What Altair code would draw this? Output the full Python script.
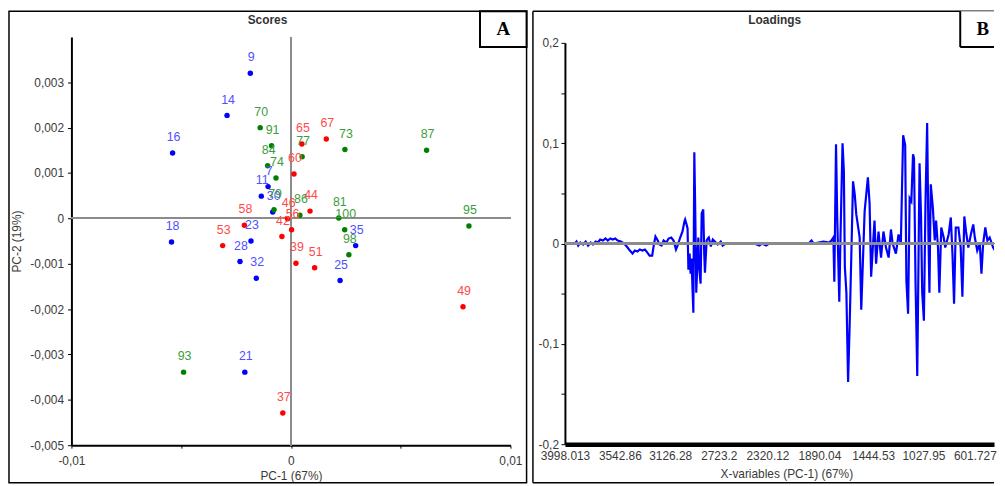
import altair as alt
import pandas as pd

# ---------------- Panel A : Scores ----------------
blue_ids = ["9", "14", "16", "18", "23", "28", "32", "25", "35", "7", "11", "30", "21"]
blue_pc1 = [-0.00185, -0.00291, -0.00539, -0.00544, -0.00182, -0.00232, -0.00158,
            0.00224, 0.00295, -0.00104, -0.00135, -0.00083, -0.00210]
blue_pc2 = [0.00320, 0.00227, 0.00144, -0.00052, -0.00050, -0.00095, -0.00132,
            -0.00137, -0.00060, 0.00070, 0.00049, 0.00014, -0.00339]

green_ids = ["70", "91", "84", "74", "77", "73", "79", "86", "81", "100", "98", "87", "95", "93"]
green_pc1 = [-0.00140, -0.00088, -0.00106, -0.00068, 0.00051, 0.00246, -0.00077,
             0.00041, 0.00218, 0.00245, 0.00264, 0.00618, 0.00811, -0.00489]
green_pc2 = [0.00200, 0.00160, 0.00116, 0.00089, 0.00136, 0.00152, 0.00019,
             0.00007, 0.00001, -0.00025, -0.00080, 0.00150, -0.00017, -0.00339]

red_ids = ["65", "67", "60", "44", "46", "56", "42", "58", "53", "39", "51", "49", "37"]
red_pc1 = [0.00050, 0.00161, 0.00014, 0.00087, -0.00015, 0.00003, -0.00041,
           -0.00212, -0.00311, 0.00023, 0.00108, 0.00784, -0.00037]
red_pc2 = [0.00164, 0.00175, 0.00098, 0.00016, -0.00001, -0.00025, -0.00040,
           -0.00015, -0.00060, -0.00099, -0.00109, -0.00195, -0.00429]

groups = ["g1", "g2", "g3"]
point_colors = ["#0000ff", "#008000", "#ff0000"]
label_colors = ["#5050ff", "#3d9c3d", "#ff4a4a"]

xa_ticks = [-0.01, -0.005, 0, 0.005, 0.01]
ya_ticks = [-0.005, -0.0045, -0.004, -0.0035, -0.003, -0.0025, -0.002, -0.0015, -0.001,
            -0.0005, 0, 0.0005, 0.001, 0.0015, 0.002, 0.0025, 0.003, 0.0035]

# ---------------- Panel B : Loadings ----------------
wavenumber = [
    3998, 3916, 3902, 3888, 3870, 3847, 3826, 3806, 3785, 3766, 3744, 3725, 3706, 3684,
    3662, 3643, 3622, 3602, 3581, 3561, 3534, 3507, 3479, 3460, 3438, 3419, 3397, 3378,
    3356, 3335, 3315, 3297, 3275, 3261, 3248, 3229, 3215, 3198, 3180, 3158, 3139, 3117,
    3098, 3078, 3062, 3043, 3024, 3008,
    3002, 2990, 2982, 2975, 2965, 2957, 2949, 2941, 2934, 2926, 2918, 2910, 2901, 2893,
    2885, 2874, 2865, 2852, 2844, 2838, 2824, 2814, 2806, 2789, 2773, 2756, 2732, 2707,
    2691, 2667, 2429, 2388, 2364, 2331, 2306, 1979, 1955, 1938, 1856, 1807, 1791,
    1774, 1766, 1752, 1742, 1725, 1715, 1698, 1687, 1679, 1666, 1652, 1638, 1625, 1611,
    1597, 1584, 1556, 1543, 1529, 1515, 1488, 1474, 1461, 1447, 1433, 1420, 1400, 1379,
    1359, 1338, 1316, 1297, 1283, 1256, 1234, 1215,
    1196, 1179, 1169, 1155, 1142, 1128, 1114, 1106, 1093, 1079, 1071, 1060, 1048, 1038,
    1024, 1011, 997, 986, 978, 967, 950, 934, 923, 907, 896, 880, 860, 847,
    819, 801, 787, 774, 760, 738, 719, 705, 689, 675, 656, 635, 615, 602,
    582, 561, 547, 533, 515, 498, 479, 450, 424]
loading = [
    0.0, 0.0, 0.002, -0.002, 0.001, -0.001, 0.002, -0.002, 0.001, -0.001, 0.002, 0.001, 0.004, 0.003,
    0.005, 0.003, 0.005, 0.004, 0.005, 0.003, 0.002, 0.0, -0.004, -0.007, -0.010, -0.007, -0.008, -0.006,
    -0.007, -0.006, -0.009, -0.012, -0.012, -0.001, 0.007, 0.003, -0.001, -0.002, 0.003, 0.001, 0.005, 0.006,
    0.003, -0.006, -0.001, 0.006, 0.012, 0.022,
    0.024, 0.019, 0.015, -0.026, -0.010, -0.030, -0.015, -0.045, -0.069, 0.091, 0.030, -0.049, -0.020, 0.006,
    -0.025, -0.040, 0.030, 0.034, -0.010, -0.029, 0.003, 0.005, 0.006, -0.003, 0.004, 0.002, -0.001, 0.002,
    -0.002, 0.0, 0.0, -0.002, 0.0, -0.002, 0.0, 0.0, 0.003, 0.0, 0.002, 0.001, 0.003,
    0.006, -0.038, 0.099, 0.026, -0.058, 0.006, 0.100, 0.072, -0.023, -0.049, -0.138, -0.076, -0.011, 0.062,
    0.049, 0.029, 0.006, -0.066, -0.017, 0.032, 0.066, 0.040, -0.033, -0.004, 0.023, -0.020, 0.012, -0.014,
    0.012, -0.004, -0.014, 0.014, 0.0, -0.010, 0.009, 0.0,
    0.108, 0.098, -0.037, -0.070, 0.045, 0.042, 0.089, 0.085, -0.040, -0.132, -0.043, 0.080, 0.029, -0.049,
    -0.077, 0.039, 0.120, 0.006, -0.049, 0.059, 0.036, 0.003, 0.023, -0.004, -0.049, 0.016, 0.006, -0.004,
    0.009, 0.026, -0.011, -0.060, 0.016, 0.016, -0.004, -0.053, 0.027, 0.012, -0.004, 0.009, 0.019, 0.006,
    -0.007, 0.0, -0.030, 0.0, 0.016, 0.003, 0.006, -0.004, -0.009]

xb_ticks = [3998.013, 3542.86, 3126.28, 2723.2, 2320.12, 1890.04, 1444.53, 1027.95, 601.727]
yb_ticks = [-0.2, -0.15, -0.1, -0.05, 0, 0.05, 0.1, 0.15, 0.2]

# ---------------- tables ----------------
scores = pd.DataFrame({
    "sample": blue_ids + green_ids + red_ids,
    "group": ["g1"] * len(blue_ids) + ["g2"] * len(green_ids) + ["g3"] * len(red_ids),
    "pc1": blue_pc1 + green_pc1 + red_pc1,
    "pc2": blue_pc2 + green_pc2 + red_pc2,
})
loadings = pd.DataFrame({"wavenumber": wavenumber, "loading": loading})

FONT = "Liberation Sans"
TXT = "#3a3a3a"
GRAY = "#8c8c8c"
AW, AH = 443, 412          # panel A plot area
BW, BH = 433, 411          # panel B group (plot spans y 6 .. 411)
B_PLOT_TOP = 6
TOP = 26                   # frame top above the common origin
BOTTOM = 450               # frame bottom below the common origin


def one(text):
    return alt.Chart(pd.DataFrame({"t": [text]}))


def comma_expr(decimals, step_mult):
    return ("abs(round(datum.value*%d)) %% 2 == 0 ? "
            "(datum.value == 0 ? '0' : (datum.value < 0 ? '-' : '') + "
            "replace(format(abs(datum.value), '.%df'), '.', ',')) : ''" % (step_mult, decimals))


ax_common = dict(grid=False, domainColor="black", tickColor="black", labelColor=TXT,
                 titleColor=TXT, labelFont=FONT, titleFont=FONT, labelFontSize=12,
                 titleFontSize=12, titleFontWeight="normal", labelFlush=False,
                 labelOverlap=False)

# ----- Panel A -----
xA = alt.X("pc1:Q", scale=alt.Scale(domain=[-0.01, 0.01], nice=False, zero=False),
           axis=alt.Axis(values=xa_ticks, labelExpr=comma_expr(2, 200), title="PC-1 (67%)",
                         titleX=AW / 2, titleY=30.5, titleBaseline="middle", titleAlign="center",
                         domainWidth=2, tickSize=3, labelPadding=7, **ax_common))
yA = alt.Y("pc2:Q", scale=alt.Scale(domain=[-0.005, 0.004], nice=False, zero=False),
           axis=alt.Axis(values=ya_ticks, labelExpr=comma_expr(3, 2000), title="PC-2 (19%)",
                         titleX=-55, titleY=AH / 2, titleAngle=270, titleBaseline="middle",
                         titleAlign="center", domainWidth=2, tickSize=4, labelPadding=4,
                         **ax_common))

frameA = one("").mark_rect(fill="transparent", stroke="black", strokeWidth=1.5).encode(
    x=alt.value(-63), x2=alt.value(459.3), y=alt.value(-TOP), y2=alt.value(BOTTOM))
hzero = alt.Chart(scores).mark_rule(color=GRAY, strokeWidth=1.5).encode(y=alt.datum(0))
vzero = alt.Chart(scores).mark_rule(color=GRAY, strokeWidth=1.5).encode(x=alt.datum(0))
pts = alt.Chart(scores).mark_circle(size=30, opacity=1).encode(
    x=xA, y=yA,
    color=alt.Color("group:N", scale=alt.Scale(domain=groups, range=point_colors), legend=None))
lbls = alt.Chart(scores).mark_text(font=FONT, fontSize=12.5, dy=-16, dx=1, baseline="middle").encode(
    x="pc1:Q", y="pc2:Q", text="sample:N",
    color=alt.Color("group:N", scale=alt.Scale(domain=groups, range=label_colors), legend=None))
titleA = one("Scores").mark_text(font=FONT, fontSize=12, fontWeight="bold", color="#333333",
                                 baseline="middle").encode(
    text="t:N", x=alt.value(197.8), y=alt.value(-17.5))
boxA = one("").mark_rect(fill="white", stroke="black", strokeWidth=2).encode(
    x=alt.value(412.3), x2=alt.value(459.3), y=alt.value(-TOP), y2=alt.value(10.25))
letterA = one("A").mark_text(font="Liberation Serif", fontSize=19, fontWeight="bold",
                             color="black", baseline="middle").encode(
    text="t:N", x=alt.value(435.8), y=alt.value(-7.5))

panelA = alt.layer(frameA, hzero, vzero, pts, lbls, titleA, boxA, letterA).resolve_scale(
    color="independent").properties(width=AW, height=AH)

# ----- Panel B -----
xB = alt.X("wavenumber:Q", scale=alt.Scale(domain=[3998.013, 442.9], nice=False, zero=False),
           axis=alt.Axis(values=xb_ticks, labelExpr="datum.value + ''",
                         title="X-variables (PC-1) (67%)", titleX=223.4, titleY=30,
                         titleBaseline="middle", titleAlign="center", domainWidth=4.5,
                         ticks=False, labelPadding=6, **ax_common))
yB = alt.Y("loading:Q", scale=alt.Scale(domain=[-0.2, 0.2], range=[BH, B_PLOT_TOP],
                                        nice=False, zero=False),
           axis=alt.Axis(values=yb_ticks, labelExpr=comma_expr(1, 20), title=None,
                         domainWidth=2, tickSize=4, labelPadding=2.5, **ax_common))

frameB_top = one("").mark_rule(color="black", strokeWidth=1.5).encode(
    x=alt.value(-32.3), x2=alt.value(BW), y=alt.value(-TOP))
frameB_bottom = one("").mark_rule(color="black", strokeWidth=1.5).encode(
    x=alt.value(-32.3), x2=alt.value(BW), y=alt.value(BOTTOM))
frameB_left = one("").mark_rule(color="black", strokeWidth=1.5).encode(
    x=alt.value(-32.3), y=alt.value(-TOP), y2=alt.value(BOTTOM))
line = alt.Chart(loadings).mark_line(color="#0000ff", strokeWidth=2.2, clip=True).encode(
    x=xB, y=yB)
bzero = alt.Chart(loadings).mark_rule(color=GRAY, strokeWidth=1.5).encode(y=alt.datum(0))
titleB = one("Loadings").mark_text(font=FONT, fontSize=12, fontWeight="bold", color="#333333",
                                   baseline="middle").encode(
    text="t:N", x=alt.value(211.7), y=alt.value(-17.5))
boxB_fill = one("").mark_rect(fill="white").encode(
    x=alt.value(398.9), x2=alt.value(BW), y=alt.value(-TOP), y2=alt.value(10.25))
boxB_left = one("").mark_rule(color="black", strokeWidth=2).encode(
    x=alt.value(398.9), y=alt.value(-TOP), y2=alt.value(10.25))
boxB_bottom = one("").mark_rule(color="black", strokeWidth=2).encode(
    x=alt.value(398.9), x2=alt.value(BW), y=alt.value(10.25))
letterB = one("B").mark_text(font="Liberation Serif", fontSize=19, fontWeight="bold",
                             color="black", baseline="middle").encode(
    text="t:N", x=alt.value(421.7), y=alt.value(-7.5))

panelB = alt.layer(frameB_top, frameB_bottom, frameB_left, line, bzero, titleB,
                   boxB_fill, boxB_left, boxB_bottom, letterB).properties(width=BW, height=BH)

chart = alt.hconcat(panelA, panelB, spacing=3).properties(
    padding={"left": 0, "top": 0, "right": 0, "bottom": 0}
).configure_view(stroke=None)

chart.save("out.html", embed_options={"renderer": "svg", "actions": False})
